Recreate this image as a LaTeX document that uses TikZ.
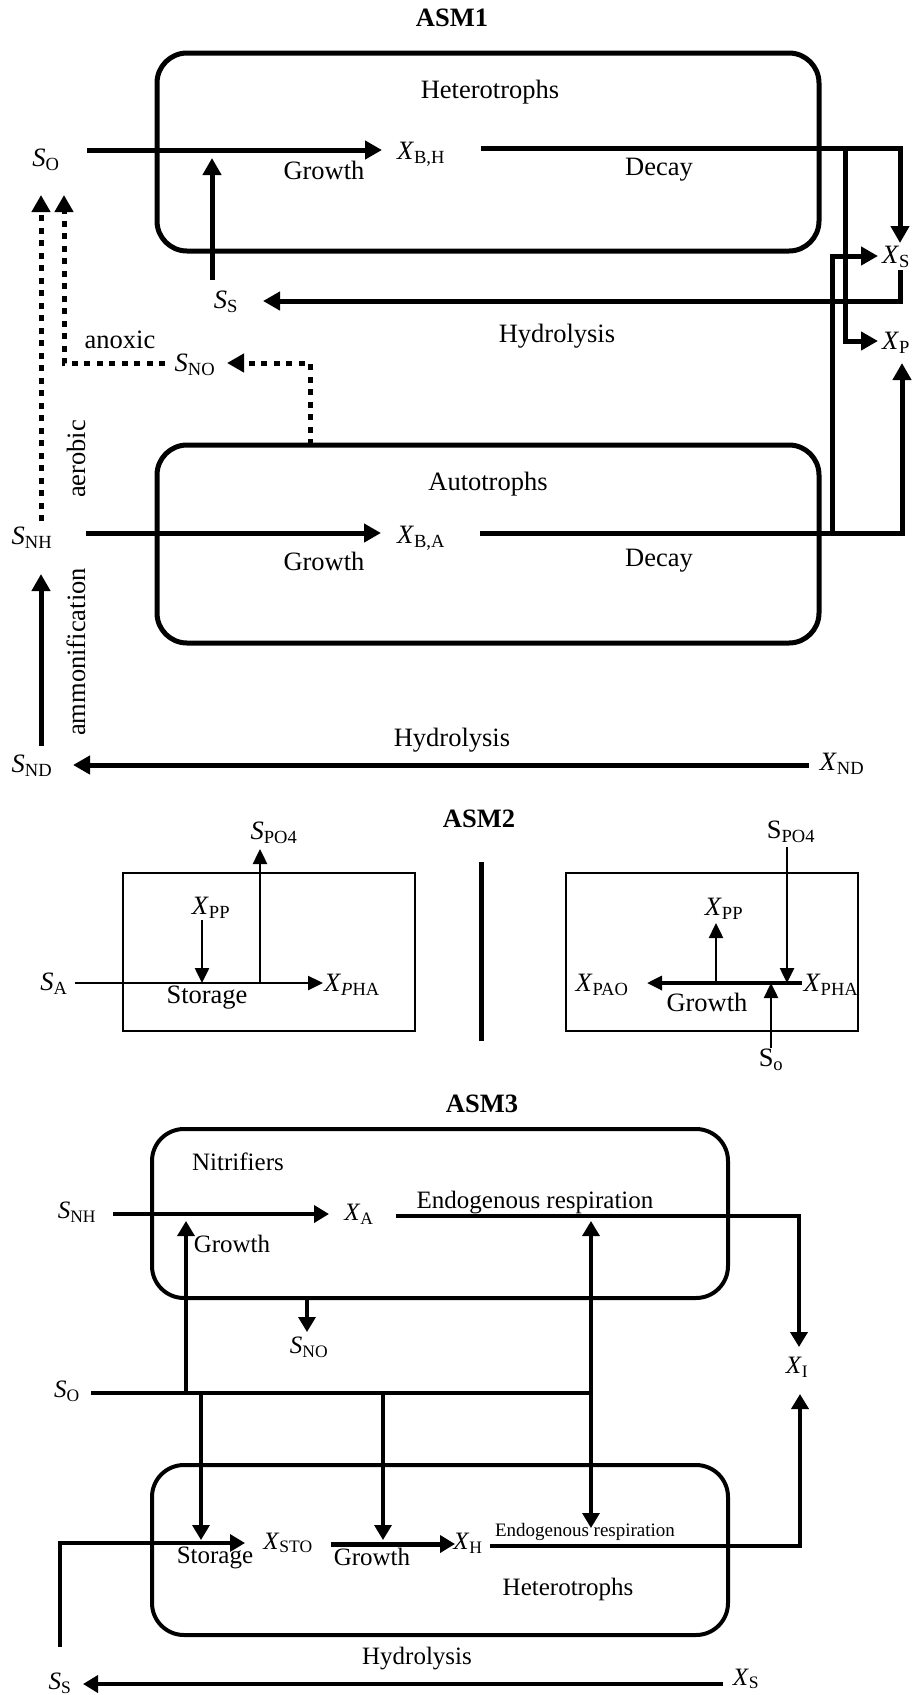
\documentclass[tikz,border=0pt]{standalone}
\usepackage{fontspec}
\setmainfont{Liberation Serif}
\usetikzlibrary{arrows.meta}
\newcommand{\vs}[2]{\textit{#1}\textsubscript{#2}}
\newcommand{\fsz}{\fontsize{26.5}{30}\selectfont}
\newcommand{\fszb}{\fontsize{25}{28}\selectfont}
\newcommand{\fszs}{\fontsize{19}{22}\selectfont}
\begin{document}
\begin{tikzpicture}[x=1pt,y=-1pt,
  lbl/.style={inner sep=0pt, font=\fsz},
  lblb/.style={inner sep=0pt, font=\fszb},
  ttl/.style={inner sep=0pt, font=\fsz\bfseries},
  bigbox/.style={line width=5pt, rounded corners=30pt},
  midbox/.style={line width=4pt, rounded corners=32pt},
  thinbox/.style={line width=1.8pt},
  hd/.style={-{Triangle[length=17pt,width=18pt]}},
  hdm/.style={-{Triangle[length=15pt,width=17pt]}},
  hds/.style={-{Triangle[length=15pt,width=14pt]}},
  thk/.style={line width=5pt},
  med/.style={line width=4pt},
  lean/.style={line width=3.3pt},
  fine/.style={line width=2.5pt},
  dots/.style={line width=5pt, dash pattern=on 6pt off 6.5pt}
]
\useasboundingbox (0,0) rectangle (912,1695);
\fill[white] (0,0) rectangle (912,1695);

% ================= ASM1 =================
\node[ttl] (t1) at (452,18) {ASM1};
\draw[bigbox] (157,53) rectangle (819,251);
\node[lbl] (het1) at (490,92) {Heterotrophs};
\node[lbl] (so1) at (46,160) {\vs{S}{O}};
\coordinate (so1a) at (87,150);
\coordinate (xbhin) at (382,150);
\draw[thk,hd] (so1a) -- (xbhin);
\node[lbl] (xbh) at (421,154) {\vs{X}{B,H}};
\coordinate (dh0) at (481,148);
\coordinate (dh1) at (900,148);
\coordinate (xstop) at (900,243);
\draw[thk,hd] (dh0) -- (dh1) -- (xstop);
\coordinate (bp0) at (845,148);
\coordinate (bp1) at (845,341);
\coordinate (xpl) at (878,341);
\draw[thk,hd] (bp0) -- (bp1) -- (xpl);
\node[lbl] (gr1) at (324,170) {Growth};
\node[lbl] (de1) at (659,170) {Decay};
\coordinate (ssu0) at (212,280);
\coordinate (ssu1) at (212,158);
\draw[thk,hd] (ssu0) -- (ssu1);
\node[lbl] (ss1) at (226,302) {\vs{S}{S}};
\node[lbl] (xs1) at (896,257) {\vs{X}{S}};
\node[lbl] (xp1) at (896,343) {\vs{X}{P}};
\coordinate (hy0) at (900,270);
\coordinate (hy1) at (900,301);
\coordinate (hy2) at (263,301);
\draw[thk,hd] (hy0) -- (hy1) -- (hy2);
\node[lbl] (hyl1) at (557,336) {Hydrolysis};
\node[lbl] (anox) at (120,340) {anoxic};
\node[lbl] (sno1) at (195,365) {\vs{S}{NO}};
\coordinate (an0) at (165,363);
\coordinate (an1) at (64,363);
\coordinate (an2) at (64,195);
\draw[dots,hd] (an0) -- (an1) -- (an2);
\coordinate (ni0) at (310,445);
\coordinate (ni1) at (310,363);
\coordinate (ni2) at (227,363);
\draw[dots,hd] (ni0) -- (ni1) -- (ni2);
\coordinate (ae0) at (41,521);
\coordinate (ae1) at (41,195);
\draw[dots,hd] (ae0) -- (ae1);
\node[lbl,rotate=90] (aer) at (76,459) {aerobic};

\draw[bigbox] (157,445) rectangle (819,643);
\node[lbl] (aut) at (488,484) {Autotrophs};
\node[lbl] (snh1) at (32,538) {\vs{S}{NH}};
\coordinate (snha) at (86,533);
\coordinate (xbain) at (381,533);
\draw[thk,hd] (snha) -- (xbain);
\node[lbl] (xba) at (421,538) {\vs{X}{B,A}};
\coordinate (da0) at (480,533);
\coordinate (da1) at (902,533);
\coordinate (xpbot) at (902,363);
\draw[thk,hd] (da0) -- (da1) -- (xpbot);
\coordinate (ba0) at (832,533);
\coordinate (ba1) at (832,256);
\coordinate (xsl) at (878,256);
\draw[thk,hd] (ba0) -- (ba1) -- (xsl);
\node[lbl] (gr2) at (324,561) {Growth};
\node[lbl] (de2) at (659,561) {Decay};
\node[lbl,rotate=90] (amm) at (76,652) {ammonification};
\coordinate (am0) at (41,746);
\coordinate (am1) at (41,574);
\draw[thk,hd] (am0) -- (am1);
\node[lbl] (snd) at (32,766) {\vs{S}{ND}};
\node[lbl] (hyl2) at (452,740) {Hydrolysis};
\coordinate (hn0) at (809,765);
\coordinate (hn1) at (73,765);
\draw[thk,hd] (hn0) -- (hn1);
\node[lbl] (xnd) at (842,764) {\vs{X}{ND}};

% ================= ASM2 =================
\node[ttl] (t2) at (479,819) {ASM2};
\draw[thinbox] (123,873) rectangle (415,1031);
\node[lbl] (spo4a) at (274,833) {\vs{S}{PO4}};
\coordinate (pa0) at (260,983);
\coordinate (pa1) at (260,849);
\draw[fine,hds] (pa0) -- (pa1);
\node[lbl] (xppa) at (211,908) {\vs{X}{PP}};
\coordinate (xa0) at (202,920);
\coordinate (xa1) at (202,983);
\draw[fine,hds] (xa0) -- (xa1);
\node[lbl] (sa) at (54,984) {\vs{S}{A}};
\coordinate (sa0) at (75,983);
\coordinate (sa1) at (323,983);
\draw[fine,hds] (sa0) -- (sa1);
\node[lbl] (xphaa) at (352,985) {\textit{X}\textsubscript{\textit{P}HA}};
\node[lbl] (sto) at (207,998) {Storage};
\coordinate (dv0) at (481,862);
\coordinate (dv1) at (481,1041);
\draw[thk] (dv0) -- (dv1);
\draw[thinbox] (566,873) rectangle (858,1031);
\node[lbl] (spo4b) at (791,832) {S\textsubscript{PO4}};
\coordinate (pb0) at (787,847);
\coordinate (pb1) at (787,983);
\draw[fine,hds] (pb0) -- (pb1);
\node[lbl] (xppb) at (724,909) {\vs{X}{PP}};
\coordinate (xb0) at (716,983);
\coordinate (xb1) at (716,923);
\draw[fine,hds] (xb0) -- (xb1);
\node[lbl] (xpao) at (602,985) {\vs{X}{PAO}};
\coordinate (gb0) at (802,983);
\coordinate (gb1) at (647,983);
\draw[lean,hds] (gb0) -- (gb1);
\node[lbl] (xphab) at (831,985) {\vs{X}{PHA}};
\node[lbl] (gr3) at (707,1002) {Growth};
\node[lbl] (sob) at (771,1060) {S\textsubscript{o}};
\coordinate (so0) at (771,1048);
\coordinate (so2) at (771,983);
\draw[fine,hds] (so0) -- (so2);

% ================= ASM3 =================
\node[ttl] (t3) at (482,1104) {ASM3};
\draw[midbox] (152,1129) rectangle (728,1298);
\node[lblb] (nit) at (238,1162) {Nitrifiers};
\node[lblb] (snh3) at (77,1212) {\vs{S}{NH}};
\coordinate (n0) at (113,1214);
\coordinate (n1) at (329,1214);
\draw[med,hdm] (n0) -- (n1);
\node[lblb] (xa) at (359,1214) {\vs{X}{A}};
\coordinate (e0) at (396,1216);
\coordinate (e1) at (799,1216);
\coordinate (xitop) at (799,1347);
\draw[med,hdm] (e0) -- (e1) -- (xitop);
\node[lblb] (endo1) at (535,1203) {Endogenous respiration};
\node[lblb] (gr4) at (232,1244) {Growth};
\coordinate (su0) at (186,1393);
\coordinate (su1) at (186,1221);
\draw[lean,hdm] (su0) -- (su1);
\coordinate (ed0) at (591,1221);
\coordinate (ed1) at (591,1528);
\draw[lean,{Triangle[length=15pt,width=17pt]}-{Triangle[length=15pt,width=17pt]}] (ed0) -- (ed1);
\coordinate (sn0) at (307,1298);
\coordinate (sn1) at (307,1332);
\draw[lean,hdm] (sn0) -- (sn1);
\node[lblb] (sno3) at (309,1347) {\vs{S}{NO}};
\node[lblb] (xi) at (797,1367) {\vs{X}{I}};
\node[lblb] (so3) at (67,1391) {\vs{S}{O}};
\coordinate (sl0) at (91,1393);
\coordinate (sl1) at (591,1393);
\draw[med] (sl0) -- (sl1);
\coordinate (d10) at (201,1393);
\coordinate (d11) at (201,1540);
\draw[lean,hdm] (d10) -- (d11);
\coordinate (d20) at (383,1393);
\coordinate (d21) at (383,1540);
\draw[lean,hdm] (d20) -- (d21);
\draw[midbox] (152,1465) rectangle (728,1635);
\coordinate (ssp0) at (60,1647);
\coordinate (ssp1) at (60,1543);
\coordinate (ssp2) at (245,1543);
\draw[lean,hdm] (ssp0) -- (ssp1) -- (ssp2);
\node[lblb] (xsto) at (288,1543) {\vs{X}{STO}};
\coordinate (g0) at (331,1544);
\coordinate (g1) at (455,1544);
\draw[thk,hdm] (g0) -- (g1);
\node[lblb] (xh) at (468,1543) {\vs{X}{H}};
\coordinate (h0) at (490,1546);
\coordinate (h1) at (800,1546);
\coordinate (xibot) at (800,1394);
\draw[med,hdm] (h0) -- (h1) -- (xibot);
\node[lblb] (sto3) at (215,1558) {Storage};
\node[lblb] (gr5) at (372,1557) {Growth};
\node[inner sep=0pt,font=\fszs] (endo2) at (585,1532) {Endogenous respiration};
\node[lblb] (het3) at (568,1589) {Heterotrophs};
\node[lblb] (hyl3) at (417,1659) {Hydrolysis};
\node[lblb] (ss3) at (60,1683) {\vs{S}{S}};
\node[lblb] (xs3) at (746,1679) {\vs{X}{S}};
\coordinate (hh0) at (723,1684);
\coordinate (hh1) at (83,1684);
\draw[med,hdm] (hh0) -- (hh1);
\end{tikzpicture}
\end{document}
